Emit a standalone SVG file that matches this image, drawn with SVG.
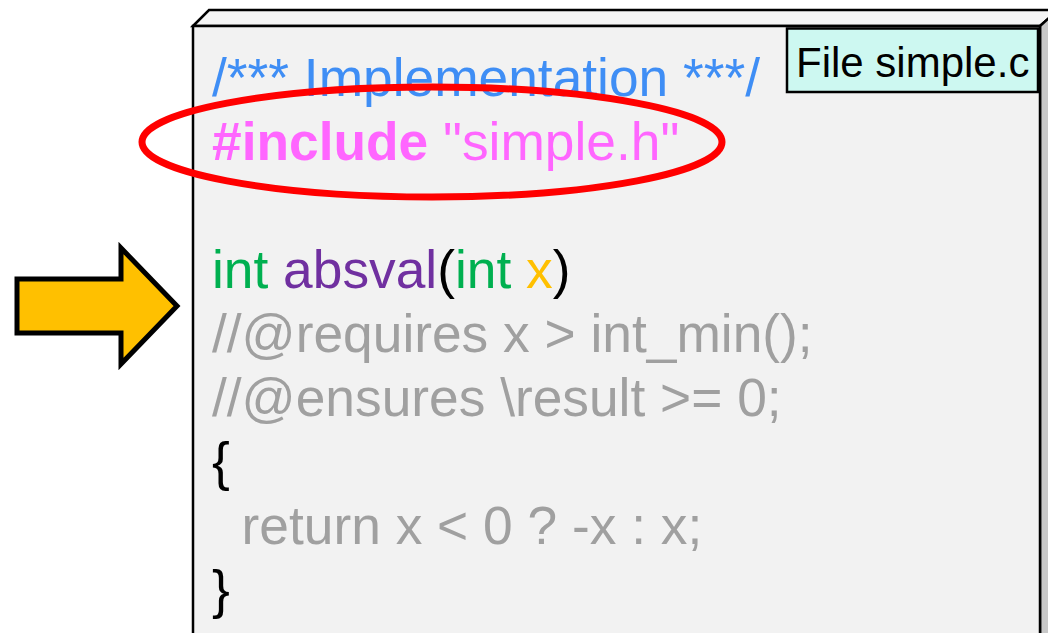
<svg xmlns="http://www.w3.org/2000/svg" width="1048" height="633" viewBox="0 0 1048 633">
<style>
.code{font-family:"Liberation Sans",Arial,sans-serif;font-size:53.3px}
.edge{stroke:#000;stroke-width:2.5;stroke-linejoin:miter}
</style>
<rect width="1048" height="633" fill="#fff"/>
<g id="file">
<polygon class="edge" points="193,26 209,10 1058,10 1040,26" fill="#f5f5f5"/>
<polygon class="edge" points="1040,26 1058,10 1058,650 1040,650" fill="#c8c8c8"/>
<rect class="edge" x="193" y="26" width="847" height="630" fill="#f2f2f2"/>
</g>
<g id="label">
<rect x="787" y="28.5" width="251" height="63.5" fill="#cdf8f1" stroke="#000" stroke-width="2.5"/>
<text x="796" y="77" font-family="Liberation Sans,Arial,sans-serif" font-size="42" fill="#000">File simple.c</text>
</g>
<g id="code" class="code">
<text x="212" y="96" fill="#3f8ef5">/*** Implementation ***/</text>
<text x="212" y="160"><tspan fill="#ff66ff" font-weight="bold">#include</tspan><tspan fill="#ff66ff"> "simple.h"</tspan></text>
<text x="212" y="288"><tspan fill="#00b050">int </tspan><tspan fill="#7030a0">absval</tspan><tspan fill="#000">(</tspan><tspan fill="#00b050">int </tspan><tspan fill="#ffc000">x</tspan><tspan fill="#000">)</tspan></text>
<text x="212" y="352" fill="#a0a0a0">//@requires x &gt; int_min();</text>
<text x="212" y="416" fill="#a0a0a0">//@ensures \result &gt;= 0;</text>
<text x="212" y="480" fill="#000">{</text>
<text x="212" y="544" fill="#a0a0a0" xml:space="preserve">  return x &lt; 0 ? -x : x;</text>
<text x="212" y="608" fill="#000">}</text>
</g>
<g id="highlight">
<ellipse cx="432" cy="142" rx="290" ry="55" fill="none" stroke="#ff0000" stroke-width="7"/>
</g>
<g id="pointer">
<polygon points="17,279 121,279 121,248 177,306 121,364 121,333 17,333" fill="#ffc000" stroke="#000" stroke-width="5"/>
</g>
</svg>
